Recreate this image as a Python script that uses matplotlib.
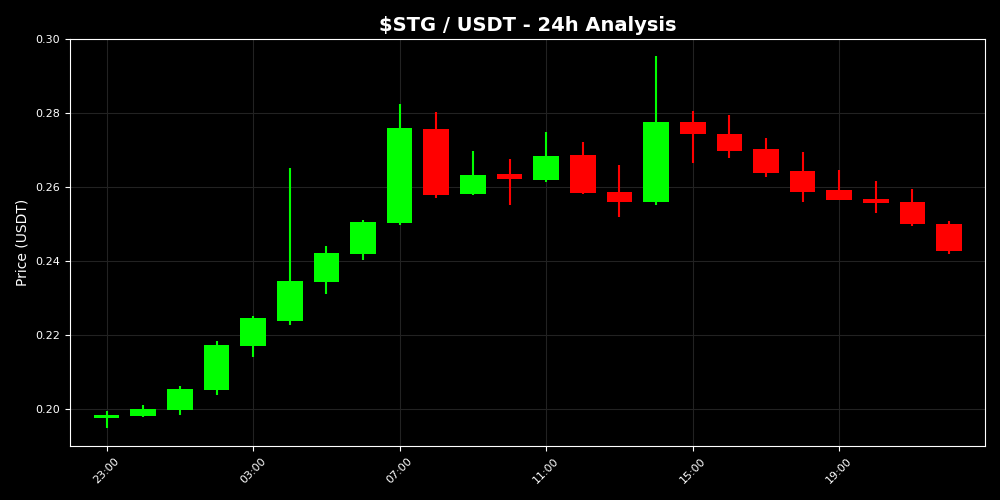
import pandas as pd
import matplotlib
matplotlib.use('Agg')
import matplotlib.pyplot as plt
import matplotlib.dates as mdates

# velas de 1h, desde las 23:00
horas = pd.date_range('2024-01-01 23:00', periods=24, freq='h')
opens = [0.1975, 0.1982, 0.1998, 0.2051, 0.2170, 0.2238, 0.2343, 0.2419, 0.2503, 0.2757,
         0.2580, 0.2635, 0.2620, 0.2687, 0.2586, 0.2560, 0.2776, 0.2743, 0.2703, 0.2643,
         0.2592, 0.2568, 0.2559, 0.2501]
highs = [0.1995, 0.2011, 0.2062, 0.2184, 0.2251, 0.2651, 0.2441, 0.2511, 0.2824, 0.2804,
         0.2697, 0.2676, 0.2749, 0.2722, 0.2659, 0.2954, 0.2805, 0.2795, 0.2733, 0.2695,
         0.2646, 0.2616, 0.2595, 0.2508]
lows = [0.1949, 0.1978, 0.1984, 0.2038, 0.2141, 0.2227, 0.2311, 0.2403, 0.2497, 0.2571,
        0.2579, 0.2550, 0.2614, 0.2582, 0.2519, 0.2550, 0.2666, 0.2679, 0.2628, 0.2559,
        0.2566, 0.2531, 0.2495, 0.2420]
closes = [0.1983, 0.1999, 0.2054, 0.2173, 0.2246, 0.2346, 0.2422, 0.2505, 0.2759, 0.2579,
          0.2633, 0.2621, 0.2685, 0.2584, 0.2560, 0.2776, 0.2743, 0.2698, 0.2639, 0.2587,
          0.2566, 0.2558, 0.2501, 0.2428]

x = mdates.date2num(horas)
ancho = 0.7 / 24

fig, ax = plt.subplots(figsize=(10, 5), dpi=100)
fig.patch.set_facecolor('black')
ax.set_facecolor('black')
plt.subplots_adjust(left=0.07, right=0.985, top=0.922, bottom=0.108)

for xi, o, h, l, c in zip(x, opens, highs, lows, closes):
    color = '#00ff00' if c >= o else '#ff0000'
    ax.vlines(xi, l, h, color=color, linewidth=1.5, zorder=2)
    ax.bar(xi, abs(c - o), width=ancho, bottom=min(o, c), color=color, zorder=3)

ax.set_ylim(0.19, 0.30)
ax.set_xlim(x[0] - 1.0 / 24, x[-1] + 0.98 / 24)
ax.xaxis.set_major_locator(mdates.HourLocator(byhour=[3, 7, 11, 15, 19, 23]))
ax.xaxis.set_major_formatter(mdates.DateFormatter('%H:%M'))
ax.set_yticks([0.20, 0.22, 0.24, 0.26, 0.28, 0.30])
plt.setp(ax.get_xticklabels(), rotation=45)

ax.grid(True, color='#222222', linewidth=0.8)
ax.set_axisbelow(True)
for sp in ax.spines.values():
    sp.set_color('white')
ax.tick_params(colors='white', labelsize=8)
ax.set_ylabel('Price (USDT)', color='white', fontsize=10)
ax.set_title('\\$STG / USDT - 24h Analysis', color='white', fontsize=14, fontweight='bold')

plt.savefig('out.png', facecolor='black')
